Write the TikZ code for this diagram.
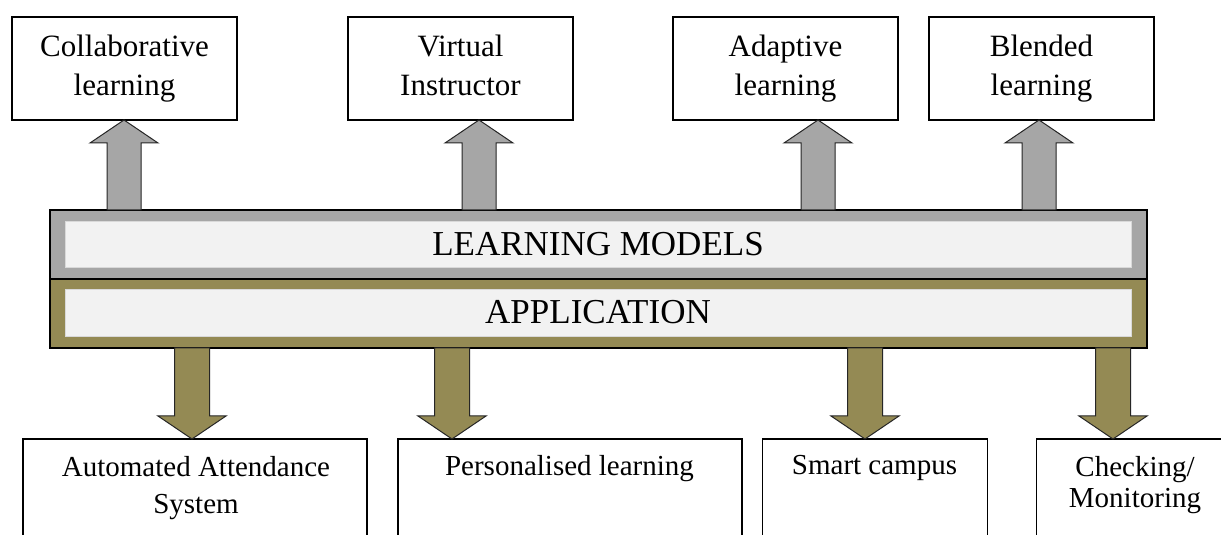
\documentclass[tikz,border=0pt]{standalone}
\usepackage{fontspec}
\setmainfont{Liberation Serif}
\usetikzlibrary{calc}
\definecolor{bandgray}{HTML}{A6A6A6}
\definecolor{bandolive}{HTML}{948A54}
\definecolor{innerfill}{HTML}{F2F2F2}
\tikzset{
  topbox/.style={draw=black, line width=1.2pt, fill=white, minimum width=225pt, minimum height=103pt, inner sep=0pt, outer sep=0pt, align=center, font=\fontsize{31}{39}\selectfont},
  botbox/.style={draw=black, line width=1.2pt, fill=white, minimum height=110pt, inner sep=0pt, outer sep=0pt},
  bottext/.style={anchor=north, align=center, inner sep=0pt, font=\fontsize{29}{37}\selectfont},
  bandouter/.style={draw=black, line width=1.3pt, minimum width=1097pt, minimum height=69pt, inner sep=0pt, outer sep=0pt},
  bandinner/.style={draw=white!85!black, line width=0.6pt, fill=innerfill, minimum width=1066pt, inner sep=0pt, outer sep=0pt, font=\fontsize{35}{42}\selectfont},
  uparr/.style={draw=black!85, line width=1pt, fill=bandgray, line join=miter},
  downarr/.style={draw=black!85, line width=1pt, fill=bandolive, line join=miter}
}
\newcommand\arrup[2]{\draw[uparr] let \p1=(#1), \p2=(#2) in
  (\x2-17pt,\y1) -- (\x2-17pt,\y2-23pt) -- (\x2-34pt,\y2-23pt) -- (\x2,\y2)
  -- (\x2+34pt,\y2-23pt) -- (\x2+17pt,\y2-23pt) -- (\x2+17pt,\y1) -- cycle;}
\newcommand\arrdown[2]{\draw[downarr] let \p1=(#1), \p2=(#2) in
  (\x2-17.5pt,\y1) -- (\x2-17.5pt,\y2+23pt) -- (\x2-34pt,\y2+23pt) -- (\x2,\y2)
  -- (\x2+34pt,\y2+23pt) -- (\x2+17.5pt,\y2+23pt) -- (\x2+17.5pt,\y1) -- cycle;}
\begin{document}
\begin{tikzpicture}[x=1pt, y=1pt]
\clip (0,0) rectangle (1221,535);
\useasboundingbox (0,0) rectangle (1221,535);
\fill[white] (0,0) rectangle (1221,535);

% top boxes
\node[topbox] (collab) at (124.5,466.5) {Collaborative\\learning};
\node[topbox] (virt)   at (460.5,466.5) {Virtual\\Instructor\vphantom{g}};
\node[topbox] (adapt)  at (785.5,466.5) {Adaptive\\learning};
\node[topbox] (blend)  at (1041.5,466.5) {Blended\\learning};

% band
\node[bandouter, fill=bandgray]  (lmband)  at (598.5,290.5) {};
\node[bandouter, fill=bandolive] (appband) at (598.5,221.5) {};
\node[bandinner, minimum height=46pt] (lm)  at (598,291) {LEARNING MODELS};
\node[bandinner, minimum height=47pt] (app) at (598,222.5) {APPLICATION};

% tip coordinates
\coordinate (u1) at ($(collab.south)+(-0.5,0)$);
\coordinate (u2) at ($(virt.south)+(18.5,0)$);
\coordinate (u3) at ($(adapt.south)+(32.5,0)$);
\coordinate (u4) at ($(blend.south)+(-2.5,0)$);

\arrup{lmband.north -| u1}{u1}
\arrup{lmband.north -| u2}{u2}
\arrup{lmband.north -| u3}{u3}
\arrup{lmband.north -| u4}{u4}

% bottom boxes
\node[botbox, minimum width=344pt, anchor=north west] (auto)  at (23,96) {};
\node[botbox, minimum width=344pt, anchor=north west] (pers)  at (398,96) {};
\node[botbox, minimum width=225pt, anchor=north west] (smart) at (762.5,96) {};
\node[botbox, minimum width=200pt, anchor=north west] (check) at (1036.5,96) {};

\node[bottext] (autot)  at ($(auto.north)+(1,-17)$) {Automated Attendance\\System};
\node[bottext] (perst)  at ($(pers.north)+(-0.5,-16)$) {Personalised learning};
\node[bottext] (smartt) at ($(smart.north)+(-0.5,-16)$) {Smart campus};
\node[bottext, font=\fontsize{29}{31}\selectfont] (checkt) at (1135,79) {Checking/\\Monitoring};

\coordinate (d1) at (192,96);
\coordinate (d2) at (452,96);
\coordinate (d3) at (865,96);
\coordinate (d4) at (1113,96);
\arrdown{appband.south -| d1}{d1}
\arrdown{appband.south -| d2}{d2}
\arrdown{appband.south -| d3}{d3}
\arrdown{appband.south -| d4}{d4}
\end{tikzpicture}
\end{document}
